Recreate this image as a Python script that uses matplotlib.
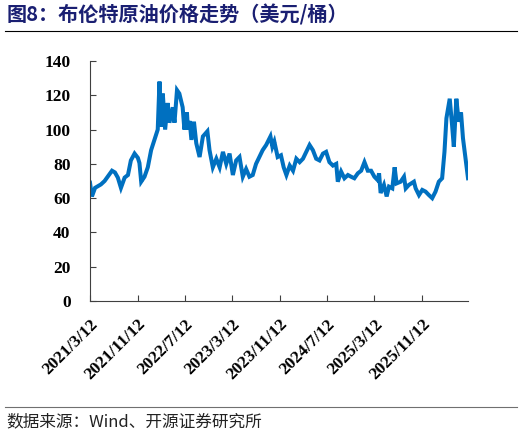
import numpy as np
import pandas as pd
import matplotlib
matplotlib.use("Agg")
import matplotlib.pyplot as plt

# Brent crude price (USD/bbl)
dates = [
    "2021-03-12", "2021-03-22", "2021-04-07", "2021-05-07", "2021-05-26", "2021-07-03",
    "2021-07-18", "2021-08-02", "2021-08-18", "2021-09-06", "2021-09-23", "2021-10-08",
    "2021-10-27", "2021-11-13", "2021-11-21", "2021-11-30", "2021-12-17", "2022-01-03",
    "2022-01-20", "2022-02-06", "2022-02-23", "2022-03-04", "2022-03-12", "2022-03-21",
    "2022-04-02", "2022-04-15", "2022-04-24", "2022-05-11", "2022-05-20", "2022-06-02",
    "2022-06-14", "2022-07-01", "2022-07-10", "2022-07-23", "2022-07-28", "2022-08-06",
    "2022-08-15", "2022-08-28", "2022-09-09", "2022-09-26", "2022-10-13", "2022-11-05",
    "2022-11-16", "2022-12-03", "2022-12-21", "2023-01-07", "2023-01-24", "2023-02-10",
    "2023-02-27", "2023-03-16", "2023-04-02", "2023-04-19", "2023-05-06", "2023-05-23",
    "2023-06-09", "2023-06-26", "2023-07-13", "2023-07-30", "2023-08-16", "2023-09-03",
    "2023-09-25", "2023-10-05", "2023-10-15", "2023-11-01", "2023-11-18", "2023-12-02",
    "2023-12-16", "2024-01-02", "2024-01-19", "2024-02-05", "2024-02-22", "2024-03-10",
    "2024-03-27", "2024-04-13", "2024-04-30", "2024-05-17", "2024-06-03", "2024-06-21",
    "2024-07-07", "2024-07-24", "2024-08-11", "2024-08-28", "2024-09-05", "2024-09-22",
    "2024-10-09", "2024-10-27", "2024-11-12", "2024-11-29", "2024-12-17", "2025-01-03",
    "2025-01-20", "2025-02-06", "2025-02-23", "2025-03-12", "2025-03-29", "2025-04-05",
    "2025-04-13", "2025-04-30", "2025-05-14", "2025-05-26", "2025-06-12", "2025-06-24",
    "2025-07-04", "2025-07-25", "2025-08-11", "2025-08-20", "2025-09-05", "2025-10-01",
    "2025-10-10", "2025-10-27", "2025-11-13", "2025-11-30", "2025-12-17", "2026-01-03",
    "2026-01-20", "2026-02-06", "2026-02-23", "2026-03-07", "2026-03-17", "2026-04-03",
    "2026-04-15", "2026-04-24", "2026-05-07", "2026-05-19", "2026-05-31", "2026-06-10",
    "2026-06-28", "2026-07-06",
]
prices = [
    69, 61, 66, 68, 70, 76,
    75, 72, 66, 72, 73.5, 82,
    86, 83.5, 80.5, 69.6, 72.5, 78,
    88, 94, 100, 128, 101.6, 121,
    100, 115.5, 104, 113, 104, 123,
    121, 113, 100, 110, 100, 105,
    94, 104.6, 92, 84, 96, 99,
    88, 78, 83, 78, 87, 80,
    86, 73.5, 82, 84, 72.5, 77,
    72.5, 73.5, 80, 84, 88, 91,
    96, 90, 93, 84, 85, 78,
    73.5, 79, 76, 83, 81, 83,
    87, 91, 88, 83, 82, 86,
    87, 81, 79, 80, 69.6, 75.5,
    71.6, 73.5, 72.5, 71.6, 74.5, 76,
    81, 76, 76, 72.5, 70.5, 74.5,
    63, 67.7, 61, 66.7, 65.7, 78,
    68.6, 69.6, 72.5, 65.7, 67.7, 69.6,
    65.7, 61.8, 64.8, 63.8, 61.8, 60,
    63.8, 69.6, 71.6, 87, 106.6, 118,
    102.7, 90, 118, 104.6, 110, 95,
    79, 71.6,
]
tick_dates = ["2021-03-12", "2021-11-12", "2022-07-12", "2023-03-12",
              "2023-11-12", "2024-07-12", "2025-03-12", "2025-11-12"]
tick_labels = ["2021/3/12", "2021/11/12", "2022/7/12", "2023/3/12",
               "2023/11/12", "2024/7/12", "2025/3/12", "2025/11/12"]
y_ticks = [0, 20, 40, 60, 80, 100, 120, 140]

TITLE = "图8：布伦特原油价格走势（美元/桶）"
SOURCE = "数据来源：Wind、开源证券研究所"

cjk = ["Noto Sans CJK SC", "DejaVu Sans"]
num_font = dict(family="Liberation Serif", weight="bold", size=12.5)

x = pd.to_datetime(dates)

fig = plt.figure(figsize=(5.22, 4.37), dpi=100)
ax = fig.add_axes([0.1724, 0.3112, 0.7242, 0.5492])
ax.plot(x, prices, color="#0070C0", lw=2.9, solid_joinstyle="miter")

ax.set_ylim(0, 140)
ax.set_yticks(y_ticks)
ax.set_yticklabels([str(v) for v in y_ticks], fontdict=num_font)
ax.set_xlim(x[0], x[-1])
ax.set_xticks(pd.to_datetime(tick_dates))
ax.set_xticklabels(tick_labels, fontdict=num_font, rotation=45,
                   ha="right", va="top", rotation_mode="anchor")
ax.tick_params(axis="both", direction="in", length=4, color="#404040", width=0.8)
ax.tick_params(axis="y", pad=14)
ax.tick_params(axis="x", pad=11)
for s in ["top", "right"]:
    ax.spines[s].set_visible(False)
for s in ["left", "bottom"]:
    ax.spines[s].set_color("#404040")
    ax.spines[s].set_linewidth(0.8)

# title, rules and source
fig.text(0.012, 0.965, TITLE, family=cjk, weight="bold", size=14.5,
         color="#1A1F72", va="center", ha="left")
fig.add_artist(plt.Line2D([0.01, 0.99], [0.929, 0.929], color="black", lw=0.8))
fig.add_artist(plt.Line2D([0.01, 0.99], [0.069, 0.069], color="#707070", lw=0.8))
fig.text(0.012, 0.034, SOURCE, family=cjk, size=12, color="#222222",
         va="center", ha="left")

fig.savefig("out.png", dpi=100)
